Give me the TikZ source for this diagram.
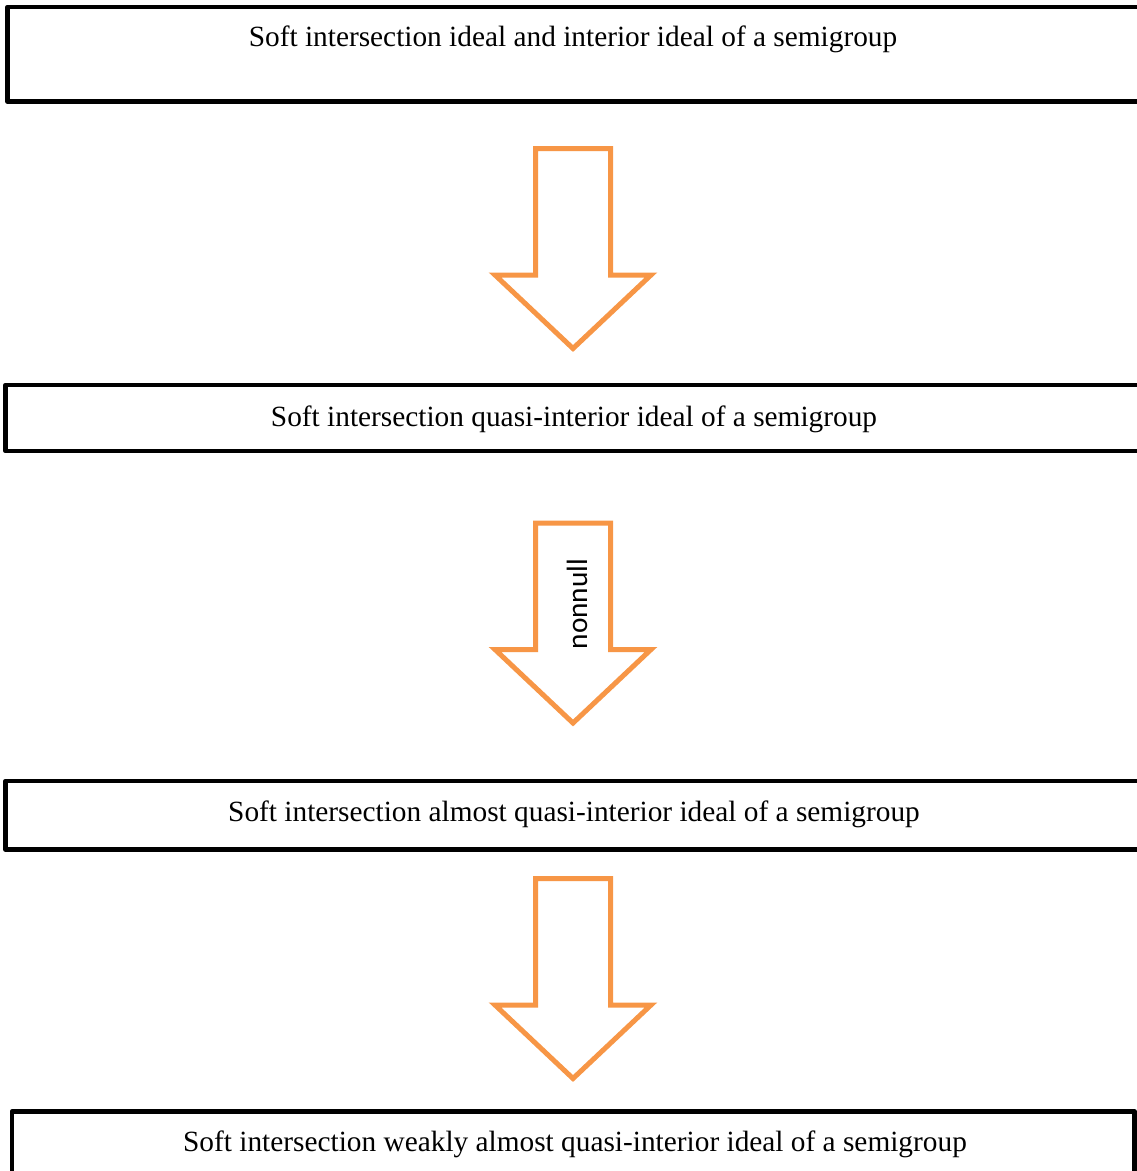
\documentclass[tikz,border=0pt]{standalone}
\usepackage{fontspec}
\setmainfont{Liberation Serif}
\newfontfamily\labelfont{Carlito}
\usetikzlibrary{positioning}
\definecolor{implorange}{HTML}{F79646}
\tikzset{
	stage/.style={draw=black,line width=3.4pt,line join=round},
	stagetext/.style={anchor=base,inner sep=0pt,font=\fontsize{22}{26}\selectfont},
	implies/.style={draw=implorange,line width=3.75pt,fill=white,line join=miter},
}
\begin{document}
\begin{tikzpicture}[x=0.75pt,y=-0.75pt]
	\useasboundingbox (0,0) rectangle (1137,1171);
	% the four stages
	\draw [stage] (7.5,7) rectangle (1160,101.5);
	\draw [stage] (5.5,385) rectangle (1160,451);
	\draw [stage] (5.5,781) rectangle (1160,849.5);
	\draw [stage] (12,1111.5) rectangle (1134.5,1200);
	\node [stagetext] (ideal) at (573,46) {Soft intersection ideal and interior ideal of a semigroup};
	\node [stagetext] (qiideal) at (574,426) {Soft intersection quasi-interior ideal of a semigroup};
	\node [stagetext] (aqiideal) at (574,821) {Soft intersection almost quasi-interior ideal of a semigroup};
	\node [stagetext] (waqiideal) at (575,1151) {Soft intersection weakly almost quasi-interior ideal of a semigroup};
	% block arrows between them
	\foreach \top/\name in {148.5/first,523/second,878.5/third}{
		\coordinate (\name) at (573,\top);
		\draw [implies] (\name) ++(-37.5,0) -- ++(0,126.5) -- ++(-40.5,0) -- ++(78,73.5)
			-- ++(78,-73.5) -- ++(-40.5,0) -- ++(0,-126.5) -- cycle;
	}
	\node [rotate=90,inner sep=0pt,font=\labelfont\fontsize{22}{26}\selectfont] (nonnull) at (577,604) {nonnull};
\end{tikzpicture}
\end{document}
